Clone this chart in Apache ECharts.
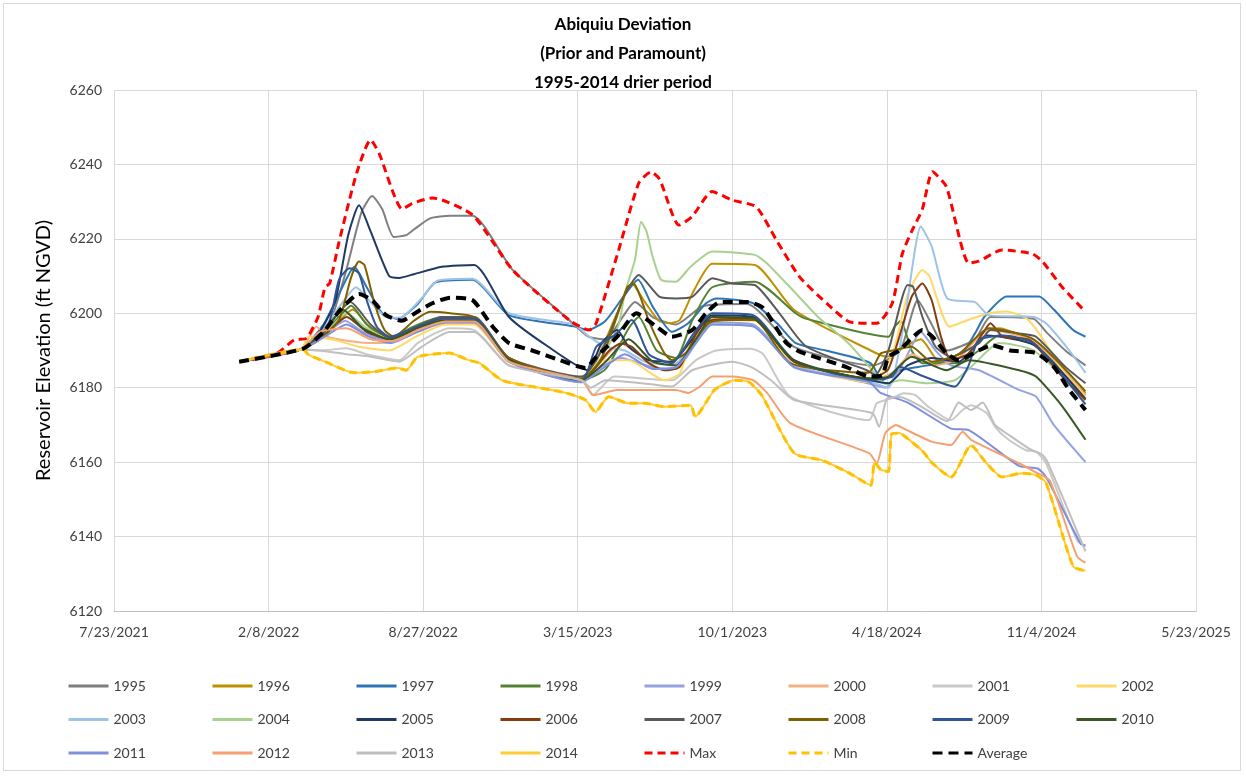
<!DOCTYPE html>
<html><head><meta charset="utf-8">
<script src="https://cdn.jsdelivr.net/npm/echarts@6/dist/echarts.min.js"></script>
<style>html,body{margin:0;padding:0;background:#fff}#c{width:1246px;height:776px}#b{position:absolute;left:3px;top:3px;width:1238px;height:768px;border:1px solid #d9d9d9;pointer-events:none;box-sizing:border-box}</style>
</head><body><div id="c"></div><div id="b"></div>
<script>
const yearNames=['1995','1996','1997','1998','1999','2000','2001','2002','2003','2004','2005','2006','2007','2008','2009','2010','2011','2012','2013','2014'];
const xTickStart='2021-07-23', xTickDays=200, xTickCount=7;
const yMin=6120,yMax=6260,yStep=20;

const y1995=[['2022-01-01',6187],['2022-03-22',6190.3],['2022-04-10',6193],['2022-05-01',6199],['2022-05-20',6212],['2022-06-08',6227],['2022-06-22',6231.5],['2022-07-05',6228],['2022-07-20',6220.5],['2022-08-05',6221],['2022-08-15',6222.5],['2022-09-05',6225.5],['2022-10-01',6226.2],['2022-10-30',6226.2],['2022-12-21',6211.6],['2023-03-05',6198],['2023-03-28',6193.8],['2023-04-20',6193],['2023-05-12',6199],['2023-05-28',6203],['2023-06-20',6199],['2023-07-20',6197],['2023-08-25',6202],['2023-10-20',6202.5],['2023-12-20',6191],['2024-03-30',6186],['2024-05-05',6190],['2024-05-28',6203.5],['2024-06-15',6197],['2024-07-05',6190],['2024-08-10',6193],['2024-08-30',6199],['2024-10-25',6198.5],['2024-11-10',6195],['2024-12-05',6190],['2024-12-31',6186]];
const y1996=[['2022-01-01',6187],['2022-03-22',6190.3],['2022-04-15',6193],['2022-05-10',6198],['2022-05-28',6201],['2022-06-20',6196],['2022-07-20',6193],['2022-08-15',6195],['2022-09-15',6198],['2022-11-01',6198.5],['2022-12-16',6187.5],['2023-03-20',6182.5],['2023-04-05',6186],['2023-05-05',6200],['2023-05-24',6208],['2023-06-10',6203],['2023-06-28',6198],['2023-07-12',6197.3],['2023-07-25',6198.2],['2023-08-12',6206],['2023-09-05',6213.3],['2023-10-30',6213],['2023-12-20',6200.9],['2024-03-28',6190],['2024-04-18',6188.3],['2024-05-10',6191],['2024-06-01',6193],['2024-06-25',6187],['2024-07-20',6189],['2024-08-25',6195.5],['2024-09-10',6196],['2024-10-25',6192],['2024-12-01',6184],['2024-12-31',6178.5]];
const y1997=[['2022-01-01',6187],['2022-03-22',6190.3],['2022-04-20',6197],['2022-05-12',6206],['2022-05-30',6212.5],['2022-06-15',6207],['2022-07-05',6200],['2022-07-25',6198.5],['2022-08-20',6202.5],['2022-09-12',6208.3],['2022-10-30',6209],['2022-12-16',6199.5],['2023-03-10',6196.5],['2023-03-28',6195.5],['2023-04-20',6198],['2023-05-15',6205],['2023-06-01',6209],['2023-06-20',6201.8],['2023-07-15',6195],['2023-08-05',6197.3],['2023-08-28',6202.7],['2023-09-10',6204],['2023-10-28',6202.7],['2023-11-28',6197.3],['2023-12-22',6192],['2024-01-30',6190],['2024-03-28',6186.6],['2024-04-12',6182],['2024-05-05',6184.7],['2024-06-10',6186],['2024-07-20',6188],['2024-08-10',6194.6],['2024-08-22',6199],['2024-09-20',6204.5],['2024-11-01',6204.5],['2024-11-20',6201],['2024-12-15',6195.5],['2024-12-31',6193.7]];
const y1998=[['2022-01-01',6187],['2022-03-22',6190.3],['2022-04-18',6194],['2022-05-10',6199],['2022-05-26',6202],['2022-06-15',6197],['2022-07-15',6193.5],['2022-08-15',6196.5],['2022-09-20',6199],['2022-11-01',6199],['2022-12-16',6188],['2023-03-20',6182],['2023-04-20',6185],['2023-05-20',6196],['2023-06-02',6199],['2023-06-25',6190],['2023-07-20',6188],['2023-08-10',6198],['2023-09-05',6207],['2023-10-30',6208.5],['2023-12-22',6200],['2024-01-05',6198.5],['2024-04-20',6193.7],['2024-04-28',6196.4],['2024-05-06',6198],['2024-05-20',6190],['2024-06-03',6186.6],['2024-07-20',6186.6],['2024-08-15',6190],['2024-09-10',6194],['2024-10-25',6192],['2024-12-31',6178]];
const y1999=[['2022-01-01',6187],['2022-03-22',6190.3],['2022-04-20',6194],['2022-05-18',6198],['2022-06-10',6195],['2022-07-15',6192.5],['2022-08-20',6195.5],['2022-09-25',6197.5],['2022-11-01',6197.5],['2022-12-16',6187],['2023-03-20',6181.5],['2023-04-10',6185],['2023-05-10',6188],['2023-06-20',6185.5],['2023-07-20',6185],['2023-08-15',6192],['2023-09-05',6197.5],['2023-10-28',6197],['2023-12-20',6186],['2024-03-28',6181],['2024-04-16',6180],['2024-05-10',6187],['2024-06-01',6195],['2024-06-20',6190],['2024-07-10',6186],['2024-08-15',6184.7],['2024-10-06',6179.4],['2024-10-28',6177.6],['2024-11-20',6170],['2024-12-31',6160]];
const y2000=[['2022-01-01',6187],['2022-03-22',6190.3],['2022-04-11',6196.4],['2022-04-25',6193.7],['2022-05-25',6192.5],['2022-06-25',6192],['2022-07-20',6192.5],['2022-08-20',6195.5],['2022-09-25',6198],['2022-11-01',6198],['2022-12-16',6187.5],['2023-03-20',6182],['2023-04-10',6186],['2023-05-10',6192],['2023-06-01',6189],['2023-07-01',6185],['2023-07-25',6186],['2023-08-20',6195],['2023-09-08',6198.5],['2023-10-30',6198.5],['2023-12-20',6187],['2024-03-28',6182],['2024-04-25',6184],['2024-05-20',6189],['2024-06-20',6186],['2024-07-20',6188],['2024-08-28',6195.5],['2024-10-25',6192.5],['2024-12-31',6178]];
const y2001=[['2022-01-01',6187],['2022-03-22',6190.3],['2022-04-15',6190],['2022-05-20',6190.6],['2022-06-15',6189],['2022-07-27',6187.4],['2022-08-20',6192],['2022-09-30',6196],['2022-11-01',6195.5],['2022-12-16',6186],['2023-03-20',6182.5],['2023-04-03',6178],['2023-05-01',6183],['2023-07-15',6182],['2023-08-15',6187.4],['2023-09-10',6190],['2023-10-25',6190.5],['2023-11-10',6189],['2023-12-15',6177.6],['2024-03-26',6171.3],['2024-04-05',6175.8],['2024-04-25',6177.2],['2024-05-10',6178.5],['2024-05-25',6178],['2024-06-10',6175],['2024-07-10',6171.3],['2024-07-25',6174],['2024-08-05',6175.3],['2024-08-25',6173.2],['2024-09-05',6169.5],['2024-09-20',6166.4],['2024-10-15',6163.2],['2024-10-28',6162.8],['2024-11-10',6159.7],['2024-12-20',6139],['2024-12-31',6137.3]];
const y2002=[['2022-01-01',6187],['2022-03-22',6190.3],['2022-04-01',6193.7],['2022-05-05',6192.8],['2022-06-05',6191],['2022-07-14',6190],['2022-08-20',6194],['2022-09-25',6197],['2022-11-01',6197],['2022-12-16',6187],['2023-03-20',6182],['2023-04-05',6186],['2023-04-20',6187.4],['2023-05-20',6187.4],['2023-07-05',6182],['2023-07-25',6183.8],['2023-08-10',6193.7],['2023-09-01',6198.2],['2023-10-30',6198],['2023-12-20',6186],['2024-03-30',6181.5],['2024-04-25',6189],['2024-05-15',6205],['2024-06-03',6211.6],['2024-06-12',6210],['2024-07-08',6196.4],['2024-08-01',6198.2],['2024-08-28',6200],['2024-09-20',6200.5],['2024-10-15',6198.7],['2024-11-01',6194.6],['2024-12-01',6184.7],['2024-12-31',6177.6]];
const y2003=[['2022-01-01',6187],['2022-03-22',6190.3],['2022-04-20',6196],['2022-05-15',6203],['2022-06-01',6207],['2022-06-20',6203],['2022-07-10',6199],['2022-07-28',6198.8],['2022-08-25',6204],['2022-09-15',6208.8],['2022-10-30',6209.3],['2022-12-16',6200],['2023-03-10',6197],['2023-03-28',6194],['2023-04-20',6191],['2023-05-15',6190],['2023-06-10',6187],['2023-07-15',6186],['2023-08-10',6191],['2023-09-05',6197],['2023-10-28',6196.5],['2023-12-20',6186],['2024-03-28',6181.5],['2024-04-20',6180],['2024-05-10',6197],['2024-06-01',6223.3],['2024-06-15',6218],['2024-07-05',6204],['2024-08-10',6203],['2024-08-28',6199.5],['2024-10-25',6199],['2024-11-10',6197.3],['2024-12-10',6190],['2024-12-31',6184]];
const y2004=[['2022-01-01',6187],['2022-03-22',6190.3],['2022-04-20',6194],['2022-05-20',6200],['2022-06-15',6196],['2022-07-15',6193],['2022-08-20',6196],['2022-09-20',6198],['2022-11-01',6198],['2022-12-16',6187.5],['2023-03-20',6182],['2023-04-20',6190],['2023-05-07',6197],['2023-05-15',6205.4],['2023-05-28',6214.3],['2023-06-05',6224.6],['2023-06-12',6222],['2023-06-20',6215.2],['2023-07-01',6209],['2023-07-20',6208.5],['2023-08-08',6212.5],['2023-09-05',6216.6],['2023-10-30',6215.7],['2023-11-15',6213.4],['2023-12-22',6205.4],['2024-01-20',6199],['2024-02-28',6192],['2024-03-30',6184.7],['2024-04-16',6181],['2024-05-05',6182],['2024-06-10',6181.2],['2024-07-15',6182],['2024-08-10',6186.6],['2024-09-10',6192],['2024-10-25',6190],['2024-12-31',6177]];
const y2005=[['2022-01-01',6187],['2022-03-22',6190.3],['2022-04-15',6195],['2022-05-05',6203],['2022-05-22',6221],['2022-06-05',6229],['2022-06-20',6222],['2022-07-14',6210],['2022-07-27',6209.5],['2022-08-15',6210.5],['2022-09-20',6212.5],['2022-11-01',6213],['2022-12-16',6199],['2023-02-05',6191],['2023-03-28',6184.7],['2023-04-15',6192],['2023-05-05',6195.5],['2023-05-20',6191],['2023-06-15',6187.4],['2023-07-15',6187],['2023-08-10',6193],['2023-09-05',6199.5],['2023-10-28',6199],['2023-12-20',6187],['2024-03-28',6182],['2024-04-20',6181.2],['2024-05-15',6186],['2024-06-15',6188],['2024-07-20',6187],['2024-08-25',6194],['2024-10-25',6191.5],['2024-12-31',6177]];
const y2006=[['2022-01-01',6187],['2022-03-22',6190.3],['2022-04-20',6194],['2022-05-20',6199],['2022-06-15',6195],['2022-07-15',6193],['2022-08-20',6196],['2022-09-20',6198],['2022-11-01',6198],['2022-12-16',6187.5],['2023-03-20',6182],['2023-04-25',6190],['2023-05-10',6191.9],['2023-05-24',6191],['2023-06-15',6186.6],['2023-07-05',6184.7],['2023-07-25',6185.6],['2023-08-20',6196.4],['2023-09-05',6198.2],['2023-10-30',6198.5],['2023-12-20',6187],['2024-03-28',6182.5],['2024-04-20',6185],['2024-05-20',6204.4],['2024-06-03',6208],['2024-06-15',6203.5],['2024-06-27',6193.7],['2024-07-10',6187.4],['2024-08-02',6189.2],['2024-08-20',6194.6],['2024-08-30',6197.3],['2024-09-15',6193.7],['2024-10-20',6192.8],['2024-12-01',6183],['2024-12-31',6176.7]];
const y2007=[['2022-01-01',6187],['2022-03-22',6190.3],['2022-04-20',6195],['2022-05-25',6203],['2022-06-20',6197],['2022-07-15',6193.5],['2022-08-20',6196.5],['2022-09-20',6199],['2022-11-01',6199],['2022-12-16',6188],['2023-03-20',6183],['2023-04-20',6192],['2023-05-15',6205],['2023-06-02',6210.3],['2023-06-29',6204.4],['2023-07-20',6204],['2023-08-10',6204.4],['2023-09-05',6209.4],['2023-10-01',6208],['2023-10-30',6207.6],['2023-12-01',6200],['2024-01-05',6191],['2024-03-23',6184.7],['2024-04-03',6183.4],['2024-04-20',6190],['2024-05-15',6207.6],['2024-05-22',6207.1],['2024-06-03',6199],['2024-06-20',6191],['2024-07-10',6188.3],['2024-08-15',6191.9],['2024-08-30',6195.5],['2024-10-06',6194.6],['2024-10-28',6193.7],['2024-12-05',6185.6],['2024-12-31',6181.2]];
const y2008=[['2022-01-01',6187],['2022-03-22',6190.3],['2022-04-15',6193],['2022-05-10',6198.2],['2022-05-26',6209.8],['2022-06-05',6213.9],['2022-06-12',6213],['2022-06-25',6202.7],['2022-07-08',6195.5],['2022-07-20',6193.7],['2022-08-15',6198],['2022-09-05',6200.4],['2022-10-01',6200],['2022-11-01',6199],['2022-12-16',6188],['2023-03-20',6182.5],['2023-04-15',6188],['2023-05-18',6207],['2023-05-26',6208],['2023-06-16',6197.4],['2023-07-05',6189.3],['2023-07-15',6187.4],['2023-08-01',6189.2],['2023-09-01',6197.4],['2023-10-01',6198.2],['2023-10-30',6198.2],['2023-12-15',6186.6],['2024-03-25',6184],['2024-04-10',6189.2],['2024-04-25',6190],['2024-05-20',6191],['2024-06-15',6187],['2024-07-20',6189],['2024-08-28',6196],['2024-10-25',6193],['2024-12-31',6179]];
const y2009=[['2022-01-01',6187],['2022-03-22',6190.3],['2022-04-25',6196],['2022-05-10',6209],['2022-05-24',6212.1],['2022-06-05',6210.7],['2022-06-15',6203.5],['2022-06-28',6196.4],['2022-07-15',6193.7],['2022-08-15',6196],['2022-09-20',6198.5],['2022-11-01',6198.5],['2022-12-16',6187.5],['2023-03-20',6182],['2023-04-08',6191],['2023-05-01',6194],['2023-05-24',6198.2],['2023-06-15',6189],['2023-07-15',6186.6],['2023-08-10',6194],['2023-09-05',6200],['2023-10-28',6199.5],['2023-12-20',6187.4],['2024-03-28',6182],['2024-04-25',6183],['2024-05-04',6185.6],['2024-06-05',6183],['2024-07-15',6180.3],['2024-08-01',6185.6],['2024-08-15',6192.8],['2024-09-15',6194],['2024-10-25',6192],['2024-12-31',6175.5]];
const y2010=[['2022-01-01',6187],['2022-03-22',6190.3],['2022-04-20',6195],['2022-05-15',6201],['2022-06-10',6196],['2022-07-15',6193],['2022-08-20',6196],['2022-09-20',6198],['2022-11-01',6198],['2022-12-16',6187.5],['2023-03-20',6182],['2023-04-20',6187],['2023-05-20',6193],['2023-06-20',6187],['2023-07-20',6186],['2023-08-15',6193],['2023-09-05',6199],['2023-10-28',6198.6],['2023-12-20',6187.4],['2024-03-28',6182.5],['2024-04-20',6183],['2024-05-20',6188.3],['2024-07-04',6184.7],['2024-08-02',6187.4],['2024-10-06',6184.7],['2024-10-28',6183],['2024-12-01',6175],['2024-12-31',6166]];
const y2011=[['2022-01-01',6187],['2022-03-22',6190.3],['2022-04-20',6193.5],['2022-05-20',6197],['2022-06-15',6194],['2022-07-15',6192],['2022-08-20',6195],['2022-09-25',6197.5],['2022-11-01',6197.5],['2022-12-16',6187],['2023-03-20',6181.5],['2023-04-15',6185],['2023-05-15',6189],['2023-06-20',6185],['2023-07-20',6185.5],['2023-08-15',6192],['2023-09-05',6197],['2023-10-28',6196.5],['2023-12-20',6185.5],['2024-03-26',6181.5],['2024-04-10',6178.6],['2024-05-15',6176],['2024-07-10',6169],['2024-08-02',6168.6],['2024-10-06',6159],['2024-10-30',6158.3],['2024-11-10',6156],['2024-12-25',6138],['2024-12-31',6137.7]];
const y2012=[['2022-01-01',6187],['2022-03-22',6190.3],['2022-04-15',6195],['2022-05-20',6196],['2022-06-20',6193],['2022-07-20',6192.5],['2022-08-20',6195.5],['2022-09-25',6197.8],['2022-11-01',6197.8],['2022-12-16',6187],['2023-03-20',6182],['2023-04-05',6178],['2023-05-05',6179.4],['2023-06-15',6179.4],['2023-07-20',6179.4],['2023-08-05',6178.6],['2023-08-20',6180.3],['2023-09-05',6183],['2023-10-01',6183],['2023-10-28',6182],['2023-11-15',6178.6],['2023-12-15',6170.5],['2024-03-26',6162.4],['2024-04-05',6159.7],['2024-04-16',6167.8],['2024-04-30',6170],['2024-05-10',6169],['2024-06-15',6165.5],['2024-07-10',6164.6],['2024-07-25',6168.2],['2024-08-05',6166],['2024-10-06',6159.7],['2024-10-30',6157],['2024-11-15',6155],['2024-12-20',6134.7],['2024-12-31',6133]];
const y2013=[['2022-01-01',6187],['2022-03-22',6190.3],['2022-04-15',6190],['2022-05-20',6189],['2022-06-15',6188.5],['2022-07-27',6187],['2022-08-25',6191],['2022-09-30',6195],['2022-11-01',6195],['2022-12-16',6186],['2023-03-20',6182],['2023-04-01',6180],['2023-04-20',6182],['2023-06-15',6181],['2023-07-15',6180.3],['2023-08-10',6184.7],['2023-10-01',6187],['2023-10-25',6185.6],['2023-11-20',6182],['2023-12-20',6176.7],['2024-03-30',6173.2],['2024-04-08',6169.5],['2024-04-18',6177],['2024-05-05',6177.5],['2024-06-01',6175],['2024-07-05',6171],['2024-07-20',6176],['2024-08-05',6174],['2024-08-20',6176],['2024-09-05',6170],['2024-09-25',6167],['2024-10-20',6163.5],['2024-11-05',6162],['2024-11-12',6160],['2024-12-31',6136]];
const y2014=[['2022-01-01',6187],['2022-03-25',6190.3],['2022-04-01',6188.8],['2022-04-22',6187],['2022-05-30',6184],['2022-06-25',6184.3],['2022-07-25',6185.3],['2022-08-05',6184.7],['2022-08-20',6188.3],['2022-09-30',6189.3],['2022-10-25',6187.4],['2022-11-08',6186.6],['2022-12-07',6182],['2023-01-15',6180.3],['2023-02-28',6178.6],['2023-03-25',6176.7],['2023-04-07',6173.5],['2023-04-24',6177.6],['2023-05-20',6175.8],['2023-06-10',6175.8],['2023-07-05',6174.9],['2023-08-08',6175.3],['2023-08-14',6172.2],['2023-09-08',6179.4],['2023-10-04',6182],['2023-10-22',6181.6],['2023-11-08',6178],['2023-12-20',6162.4],['2024-01-25',6160.5],['2024-03-01',6157],['2024-03-28',6153.8],['2024-04-02',6160],['2024-04-10',6158],['2024-04-20',6157.5],['2024-04-24',6167.5],['2024-05-04',6167.8],['2024-05-12',6166.8],['2024-06-03',6163],['2024-06-16',6159.7],['2024-07-10',6156],['2024-08-05',6164.5],['2024-08-25',6159.7],['2024-09-14',6156],['2024-10-10',6157],['2024-10-28',6156.5],['2024-11-10',6154.4],['2024-12-15',6132],['2024-12-31',6130.8]];

const maxVals=[['2022-01-01',6187],['2022-02-19',6189.3],['2022-03-13',6192.8],['2022-03-29',6193.3],['2022-04-13',6199],['2022-04-22',6207],['2022-04-28',6208],['2022-05-10',6219],['2022-06-02',6237.7],['2022-06-20',6246.6],['2022-07-01',6243],['2022-07-31',6228],['2022-08-13',6229.5],['2022-09-08',6231],['2022-10-30',6226.4],['2022-12-21',6211.6],['2023-03-05',6198],['2023-03-30',6195.5],['2023-04-08',6197.4],['2023-05-07',6217],['2023-06-02',6235],['2023-06-18',6238],['2023-06-29',6236],['2023-07-24',6223.7],['2023-08-10',6226],['2023-09-05',6232.7],['2023-10-01',6230.4],['2023-11-01',6228.6],['2023-11-27',6219.7],['2023-12-27',6209.8],['2024-01-31',6202.7],['2024-03-01',6197.7],['2024-04-05',6197.3],['2024-04-25',6202.7],['2024-05-08',6216],['2024-05-21',6222.4],['2024-06-03',6228],['2024-06-16',6238],['2024-07-04',6234],['2024-08-02',6213.5],['2024-08-15',6214],['2024-09-14',6217],['2024-10-23',6216],['2024-11-05',6214],['2024-12-01',6207],['2024-12-31',6200.4]];
const minVals=[['2022-01-01',6187],['2022-03-25',6190.3],['2022-04-01',6188.8],['2022-04-22',6187],['2022-05-30',6184],['2022-06-25',6184.3],['2022-07-25',6185.3],['2022-08-05',6184.7],['2022-08-20',6188.3],['2022-09-30',6189.3],['2022-10-25',6187.4],['2022-11-08',6186.6],['2022-12-07',6182],['2023-01-15',6180.3],['2023-02-28',6178.6],['2023-03-25',6176.7],['2023-04-07',6173.5],['2023-04-24',6177.6],['2023-05-20',6175.8],['2023-06-10',6175.8],['2023-07-05',6174.9],['2023-08-08',6175.3],['2023-08-14',6172.2],['2023-09-08',6179.4],['2023-10-04',6182],['2023-10-22',6181.6],['2023-11-08',6178],['2023-12-20',6162.4],['2024-01-25',6160.5],['2024-03-01',6157],['2024-03-28',6153.8],['2024-04-02',6160],['2024-04-10',6158],['2024-04-20',6157.5],['2024-04-24',6167.5],['2024-05-04',6167.8],['2024-05-12',6166.8],['2024-06-03',6163],['2024-06-16',6159.7],['2024-07-10',6156],['2024-08-05',6164.5],['2024-08-25',6159.7],['2024-09-14',6156],['2024-10-10',6157],['2024-10-28',6156.5],['2024-11-10',6154.4],['2024-12-15',6132],['2024-12-31',6130.8]];
const avgVals=[['2022-01-01',6187],['2022-03-25',6190.5],['2022-04-20',6195],['2022-05-12',6201],['2022-06-05',6205.2],['2022-06-22',6203.5],['2022-07-10',6199.5],['2022-07-30',6198],['2022-08-20',6200.5],['2022-09-08',6202.7],['2022-10-01',6204.2],['2022-10-30',6203.5],['2022-11-25',6196.4],['2022-12-16',6192],['2023-01-15',6190],['2023-02-20',6187.4],['2023-03-25',6185.3],['2023-04-08',6188.3],['2023-05-05',6193.7],['2023-05-30',6200],['2023-06-25',6196.4],['2023-07-15',6193.7],['2023-08-10',6195.5],['2023-08-28',6200],['2023-09-15',6203],['2023-10-22',6203],['2023-11-10',6201.4],['2023-12-10',6192],['2023-12-27',6189.7],['2024-02-25',6185.6],['2024-03-26',6183],['2024-04-12',6183.4],['2024-04-20',6188.3],['2024-05-04',6190],['2024-05-22',6193.7],['2024-06-03',6195.5],['2024-06-16',6193.7],['2024-07-04',6189.3],['2024-07-20',6187.4],['2024-08-15',6190],['2024-09-01',6191.4],['2024-09-25',6190],['2024-10-28',6189.3],['2024-11-20',6185.6],['2024-12-10',6179.4],['2024-12-31',6174]];

const yearData=[y1995,y1996,y1997,y1998,y1999,y2000,y2001,y2002,y2003,y2004,y2005,y2006,y2007,y2008,y2009,y2010,y2011,y2012,y2013,y2014];
const yearColors=['#7F7F7F','#BF9000','#2E75B6','#548235','#94A3E0','#F4B183','#C9C9C9','#FFD966','#9DC3E6','#A9D18E','#1F3864','#843C0C','#595959','#7F6000','#2F5597','#385723','#7F8FDC','#F4A070','#BFBFBF','#FFCC33'];

const DAY=86400000;
const base=Date.UTC(2021,6,23);
function toDay(s){const p=s.split('-');return (Date.UTC(+p[0],+p[1]-1,+p[2])-base)/DAY;}
function conv(arr){return arr.map(d=>[toDay(d[0]),d[1]]);}
function fmt(v){const d=new Date(base+v*DAY);return (d.getUTCMonth()+1)+'/'+d.getUTCDate()+'/'+d.getUTCFullYear();}

const FONT='Lato';
const series=[];
yearNames.forEach((n,i)=>{
  series.push({name:n,type:'line',data:conv(yearData[i]),symbol:'none',smooth:0.2,
    lineStyle:{width:2,color:yearColors[i]},itemStyle:{color:yearColors[i]},z:2});
});
series.push({name:'Max',type:'line',data:conv(maxVals),symbol:'none',smooth:0.2,lineStyle:{width:3,color:'#FF0000',type:[8,5]},itemStyle:{color:'#FF0000'},z:3});
series.push({name:'Min',type:'line',data:conv(minVals),symbol:'none',smooth:0.2,lineStyle:{width:3,color:'#FFC000',type:[8,5]},itemStyle:{color:'#FFC000'},z:3});
series.push({name:'Average',type:'line',data:conv(avgVals),symbol:'none',smooth:0.2,lineStyle:{width:4,color:'#000000',type:[10,6]},itemStyle:{color:'#000000'},z:4});

const allNames=yearNames.concat(['Max','Min','Average']);
const legends=allNames.map((n,i)=>{
  const row=Math.floor(i/8), col=i%8;
  return {data:[n],left:62+144*col,top:674+33.5*row,itemWidth:40,itemHeight:14,itemGap:0,
    itemStyle:{opacity:0,color:'transparent',borderColor:'transparent',borderWidth:0},
    lineStyle:{width:3},
    textStyle:{fontFamily:FONT,fontSize:14,color:'#404040'},selectedMode:false};
});

const chart=echarts.init(document.getElementById('c'),null,{renderer:'canvas'});
chart.setOption({
  animation:false,
  backgroundColor:'#fff',
  title:{text:'Abiquiu Deviation\n(Prior and Paramount)\n1995-2014 drier period',left:'center',top:5,
    textStyle:{fontFamily:FONT,fontSize:17,fontWeight:'bold',color:'#000',lineHeight:29}},
  legend:legends,
  grid:{left:114,right:50,top:90,bottom:165},
  xAxis:{type:'value',min:0,max:xTickDays*xTickCount,interval:xTickDays,
    axisLine:{show:true,lineStyle:{color:'#bfbfbf',width:1}},axisTick:{show:false},
    splitLine:{show:true,lineStyle:{color:'#d9d9d9',width:1}},
    axisLabel:{formatter:fmt,fontFamily:FONT,fontSize:14,color:'#404040',margin:14}},
  yAxis:{type:'value',min:yMin,max:yMax,interval:yStep,
    name:'Reservoir Elevation (ft NGVD)',nameLocation:'middle',nameGap:60,
    nameTextStyle:{fontFamily:FONT,fontSize:20,color:'#000'},
    axisLine:{show:false},axisTick:{show:false},
    splitLine:{show:true,lineStyle:{color:'#d9d9d9',width:1}},
    axisLabel:{fontFamily:FONT,fontSize:14,color:'#404040',margin:12,formatter:v=>String(v)}},
  series:series
});
</script></body></html>
